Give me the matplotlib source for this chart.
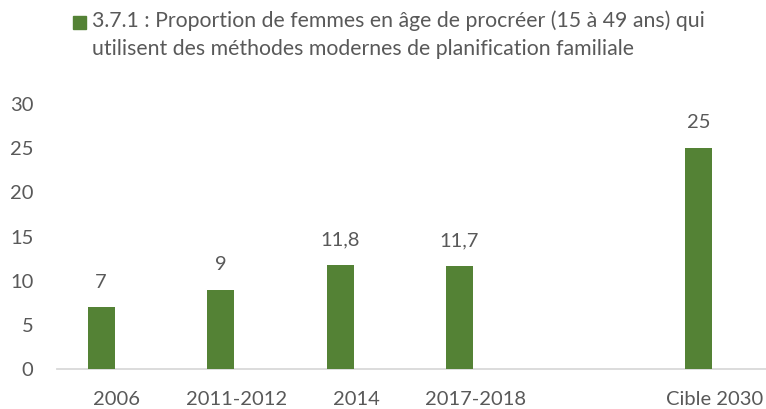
import matplotlib
matplotlib.use("Agg")
import matplotlib.pyplot as plt
from matplotlib.patches import Rectangle

categories = ["2006", "2011-2012", "2014", "2017-2018", "", "Cible 2030"]
values = [7, 9, 11.8, 11.7, None, 25]
value_labels = ["7", "9", "11,8", "11,7", "", "25"]
yticks = [0, 5, 10, 15, 20, 25, 30]
legend_label = ("3.7.1 : Proportion de femmes en âge de procréer (15 à 49 ans) qui\n"
                "utilisent des méthodes modernes de planification familiale")

GREEN = "#548235"
TXT = "#595959"
FONT = "Lato"
FS = 14.5
FS_LEG = 15.3

W, H = 766, 409
fig = plt.figure(figsize=(W / 100, H / 100), dpi=100)

# axes geometry in pixels
x_left, x_right = 57, 766
y_bottom, y_top = 369, 104
ax = fig.add_axes([x_left / W, (H - y_bottom) / H, (x_right - x_left) / W, (y_bottom - y_top) / H])

cat_x0, cat_step = 117, 119.5
ax.set_xlim((x_left - cat_x0) / cat_step, (x_right - cat_x0) / cat_step)
ax.set_ylim(0, 30)

offset = -16 / cat_step
bw = 27 / cat_step
for i, (v, lab) in enumerate(zip(values, value_labels)):
    if v is None:
        continue
    ax.bar(i + offset, v, width=bw, color=GREEN, zorder=3)
    ax.annotate(lab, (i + offset, v), xytext=(0, 12), textcoords="offset points",
                ha="center", va="bottom", fontsize=FS, color=TXT, family=FONT,
                annotation_clip=False)

ax.set_xticks(range(len(categories)))
ax.set_xticklabels(categories, fontsize=FS, color=TXT, family=FONT)
ax.set_yticks(yticks)
ax.set_yticklabels([str(t) for t in yticks], fontsize=FS, color=TXT, family=FONT)
ax.tick_params(axis="both", length=0)
ax.tick_params(axis="x", pad=16)
ax.tick_params(axis="y", pad=17)

for s in ["top", "right", "left"]:
    ax.spines[s].set_visible(False)
ax.spines["bottom"].set_color("#d9d9d9")
ax.spines["bottom"].set_linewidth(1.3)

# legend
fig.patches.append(Rectangle((73 / W, (H - 29) / H), 13 / W, 13 / H,
                             transform=fig.transFigure, color=GREEN))
fig.text(92 / W, (H - 10) / H, legend_label, ha="left", va="top", fontsize=FS_LEG,
         color=TXT, family=FONT, linespacing=1.5)

fig.savefig("out.png", dpi=100)
